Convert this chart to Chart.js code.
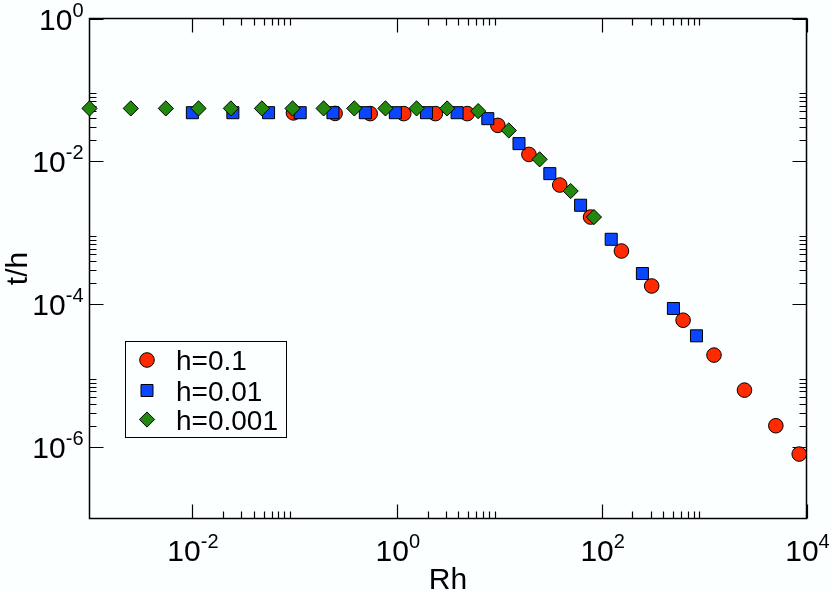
<!DOCTYPE html>
<html><head><meta charset="utf-8">
<script src="https://cdn.jsdelivr.net/npm/chart.js@4/dist/chart.umd.min.js"></script>
<style>html,body{margin:0;padding:0;background:#fcffff}#wrap{width:830px;height:593px;position:relative}</style>
</head><body><div id="wrap"><canvas id="c"></canvas></div>
<script>
// ---- data ----
const seriesNames = ['h=0.1', 'h=0.01', 'h=0.001'];
const rhH1 = [0.098, 0.25, 0.55, 1.17, 2.38, 4.87, 9.7, 19.5, 39, 78, 156, 308, 624, 1250, 2480, 5020, 8490];
const thH1 = [0.0477, 0.0469, 0.0466, 0.0466, 0.0466, 0.0466, 0.0319, 0.0125, 0.00466, 0.00166, 0.000556, 0.00018, 5.97e-5, 1.94e-5, 6.27e-6, 1.99e-6, 7.98e-7];
const rhH2 = [0.0101, 0.0251, 0.056, 0.114, 0.238, 0.493, 0.968, 1.95, 3.88, 7.74, 15.6, 31.2, 62.3, 124, 250, 502, 843];
const thH2 = [0.048, 0.048, 0.048, 0.048, 0.048, 0.048, 0.048, 0.048, 0.048, 0.0396, 0.0177, 0.00673, 0.00243, 0.000811, 0.000269, 8.71e-5, 3.61e-5];
const rhH3 = [0.001, 0.00253, 0.00556, 0.0116, 0.024, 0.0482, 0.096, 0.193, 0.385, 0.775, 1.56, 3.10, 6.23, 12.4, 24.8, 49.8, 84.1];
const thH3 = [0.0551, 0.0551, 0.0551, 0.0551, 0.0551, 0.0551, 0.0551, 0.0551, 0.0551, 0.0551, 0.0551, 0.0551, 0.0505, 0.0271, 0.01067, 0.00384, 0.00166];
const xLabelExps = [-2, 0, 2, 4];
const yLabelExps = [0, -2, -4, -6];
const xTitle = 'Rh';
const yTitle = 't/h';

const colors = ['#ff2a00', '#0a46ff', '#23890e'];
const styles = ['circle', 'rect', 'rectRot'];
const radii = [7.3, 8.5, 7.6];

function pts(xs, ys) { return xs.map((x, i) => ({x: x, y: ys[i]})); }
const allX = [rhH1, rhH2, rhH3], allY = [thH1, thH2, thH3];

const FONT = '"Liberation Sans", Arial, sans-serif';
const BIG = 30, SUP = 20;

function drawPow(ctx, exp, x, base, align) {
  ctx.font = BIG + 'px ' + FONT;
  const w1 = ctx.measureText('10').width;
  ctx.font = SUP + 'px ' + FONT;
  const e = String(exp);
  const w2 = ctx.measureText(e).width;
  let x0 = align === 'right' ? x - (w1 + w2) : x - (w1 + w2) / 2;
  ctx.textAlign = 'left';
  ctx.textBaseline = 'alphabetic';
  ctx.font = BIG + 'px ' + FONT;
  ctx.fillText('10', x0, base);
  ctx.font = SUP + 'px ' + FONT;
  ctx.fillText(e, x0 + w1, base - 13);
}

const decor = {
  id: 'decor',
  beforeDatasetsDraw(chart) {
    const ctx = chart.ctx, a = chart.chartArea;
    const xs = chart.scales.x, ys = chart.scales.y;
    ctx.save();
    ctx.strokeStyle = '#000';
    ctx.lineWidth = 1.5;
    ctx.strokeRect(a.left, a.top, a.right - a.left, a.bottom - a.top);
    ctx.lineWidth = 1.2;
    ctx.beginPath();
    for (let k = -4; k <= 4; k += 2) {
      for (let m = 1; m <= 9; m++) {
        const v = m * Math.pow(10, k);
        if (v < xs.min * 0.999 || v > xs.max * 1.001) continue;
        const px = Math.round(xs.getPixelForValue(v)) + 0.5;
        const len = m === 1 ? 14 : 7;
        ctx.moveTo(px, a.bottom); ctx.lineTo(px, a.bottom - len);
        ctx.moveTo(px, a.top); ctx.lineTo(px, a.top + len);
      }
    }
    for (let k = -8; k <= 0; k += 2) {
      for (let m = 1; m <= 9; m++) {
        const v = m * Math.pow(10, k);
        if (v < ys.min * 0.999 || v > ys.max * 1.001) continue;
        const py = Math.round(ys.getPixelForValue(v)) + 0.5;
        const len = m === 1 ? 14 : 7;
        ctx.moveTo(a.left, py); ctx.lineTo(a.left + len, py);
        ctx.moveTo(a.right, py); ctx.lineTo(a.right - len, py);
      }
    }
    ctx.stroke();
    ctx.restore();
  },
  afterDraw(chart) {
    const ctx = chart.ctx, a = chart.chartArea;
    const xs = chart.scales.x, ys = chart.scales.y;
    ctx.save();
    ctx.fillStyle = '#000';
    xLabelExps.forEach(e => {
      drawPow(ctx, e, xs.getPixelForValue(Math.pow(10, e)) + 1, a.bottom + 42, 'center');
    });
    yLabelExps.forEach(e => {
      drawPow(ctx, e, a.left - 6, ys.getPixelForValue(Math.pow(10, e)) + 11, 'right');
    });
    // axis titles
    ctx.font = BIG + 'px ' + FONT;
    ctx.textAlign = 'center';
    ctx.textBaseline = 'alphabetic';
    ctx.fillText(xTitle, (a.left + a.right) / 2, 589);
    ctx.save();
    ctx.translate(27, (a.top + a.bottom) / 2);
    ctx.rotate(-Math.PI / 2);
    ctx.fillText(yTitle, 0, 0);
    ctx.restore();
    // legend
    const lx = 125.5, ly = 341.5, lw = 161, lh = 96;
    ctx.fillStyle = '#fcffff';
    ctx.fillRect(lx, ly, lw, lh);
    ctx.strokeStyle = '#000';
    ctx.lineWidth = 1;
    ctx.strokeRect(lx, ly, lw, lh);
    const rows = [360, 390.5, 419.5];
    chart.data.datasets.forEach((ds, i) => {
      ctx.fillStyle = ds.backgroundColor;
      ctx.strokeStyle = '#000';
      ctx.lineWidth = 1;
      Chart.helpers.drawPoint(ctx, {pointStyle: ds.pointStyle, radius: ds.pointRadius, rotation: 0, borderWidth: 1}, 147, rows[i]);
      ctx.fillStyle = '#000';
      ctx.font = '28px ' + FONT;
      ctx.textAlign = 'left';
      ctx.fillText(ds.label, 176, rows[i] + 10);
    });
    ctx.restore();
  }
};

const datasets = seriesNames.map((n, i) => ({
  label: n,
  data: pts(allX[i], allY[i]),
  backgroundColor: colors[i],
  borderColor: '#000',
  borderWidth: 1,
  pointStyle: styles[i],
  pointRadius: radii[i],
  pointHoverRadius: radii[i],
  showLine: false,
  clip: false,
  order: 3 - i
}));

new Chart(document.getElementById('c'), {
  type: 'scatter',
  data: { datasets },
  plugins: [decor],
  options: {
    responsive: true,
    maintainAspectRatio: false,
    animation: false,
    events: [],
    layout: { padding: { left: 0, top: 18.5, right: 23.5, bottom: 0 } },
    plugins: { legend: { display: false }, tooltip: { enabled: false } },
    scales: {
      x: {
        type: 'logarithmic', min: 1e-3, max: 1e4,
        grid: { display: false }, border: { display: false },
        ticks: { display: false },
        afterFit(s) { s.height = 74.5; }
      },
      y: {
        type: 'logarithmic', min: 1e-7, max: 1,
        grid: { display: false }, border: { display: false },
        ticks: { display: false },
        afterFit(s) { s.width = 89.5; }
      }
    }
  }
});
</script>
</body></html>
